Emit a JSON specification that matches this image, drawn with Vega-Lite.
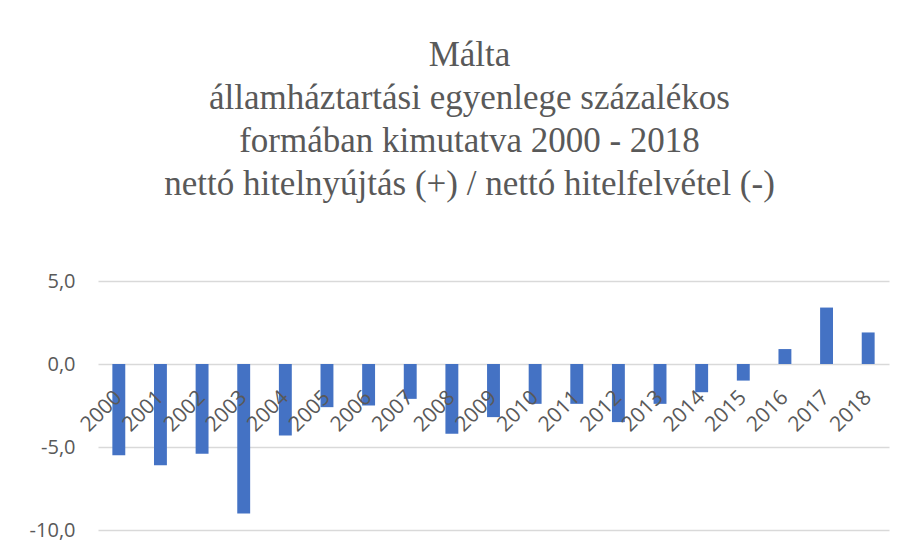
{
  "$schema": "https://vega.github.io/schema/vega-lite/v6.json",
  "autosize": {"type": "none"},
  "width": 791,
  "height": 249,
  "padding": {"left": 98, "top": 281, "right": 18, "bottom": 21},
  "background": "white",
  "title": {
    "text": ["Málta", "államháztartási egyenlege százalékos", "formában kimutatva 2000 - 2018", "nettó hitelnyújtás (+) / nettó hitelfelvétel (-)"],
    "font": "Liberation Serif",
    "fontSize": 35,
    "fontWeight": "normal",
    "color": "#595959",
    "lineHeight": 43,
    "anchor": "middle",
    "dx": -24,
    "offset": 69
  },
  "data": {
    "values": [
      {"year": "2000", "value": -5.5},
      {"year": "2001", "value": -6.1},
      {"year": "2002", "value": -5.4},
      {"year": "2003", "value": -9.0},
      {"year": "2004", "value": -4.3},
      {"year": "2005", "value": -2.6},
      {"year": "2006", "value": -2.5},
      {"year": "2007", "value": -2.1},
      {"year": "2008", "value": -4.2},
      {"year": "2009", "value": -3.2},
      {"year": "2010", "value": -2.4},
      {"year": "2011", "value": -2.4},
      {"year": "2012", "value": -3.5},
      {"year": "2013", "value": -2.4},
      {"year": "2014", "value": -1.7},
      {"year": "2015", "value": -1.0},
      {"year": "2016", "value": 0.9},
      {"year": "2017", "value": 3.4},
      {"year": "2018", "value": 1.9}
    ]
  },
  "mark": {"type": "bar", "color": "#4472C4"},
  "encoding": {
    "x": {
      "field": "year",
      "type": "nominal",
      "sort": null,
      "scale": {"paddingInner": 0.69, "paddingOuter": 0.345},
      "axis": {
        "title": null,
        "labelAngle": -45,
        "labelAlign": "right",
        "labelBaseline": "middle",
        "labelFont": "Open Sans",
        "labelFontSize": 21,
        "labelColor": "#595959",
        "labelPadding": 30,
        "ticks": false,
        "domain": false,
        "offset": -166,
        "grid": false,
        "zindex": 1
      }
    },
    "y": {
      "field": "value",
      "type": "quantitative",
      "scale": {"domain": [-10, 5], "nice": false, "zero": false},
      "axis": {
        "title": null,
        "values": [-10, -5, 0, 5],
        "labelExpr": "replace(replace(format(datum.value, '.1f'), '.', ','), '\u2212', '-')",
        "labelFont": "Open Sans",
        "labelFontSize": 20,
        "labelColor": "#595959",
        "labelPadding": 23,
        "ticks": false,
        "domain": false,
        "grid": true,
        "gridColor": "#d9d9d9",
        "gridWidth": 1.5
      }
    }
  },
  "config": {"view": {"stroke": null}}
}
